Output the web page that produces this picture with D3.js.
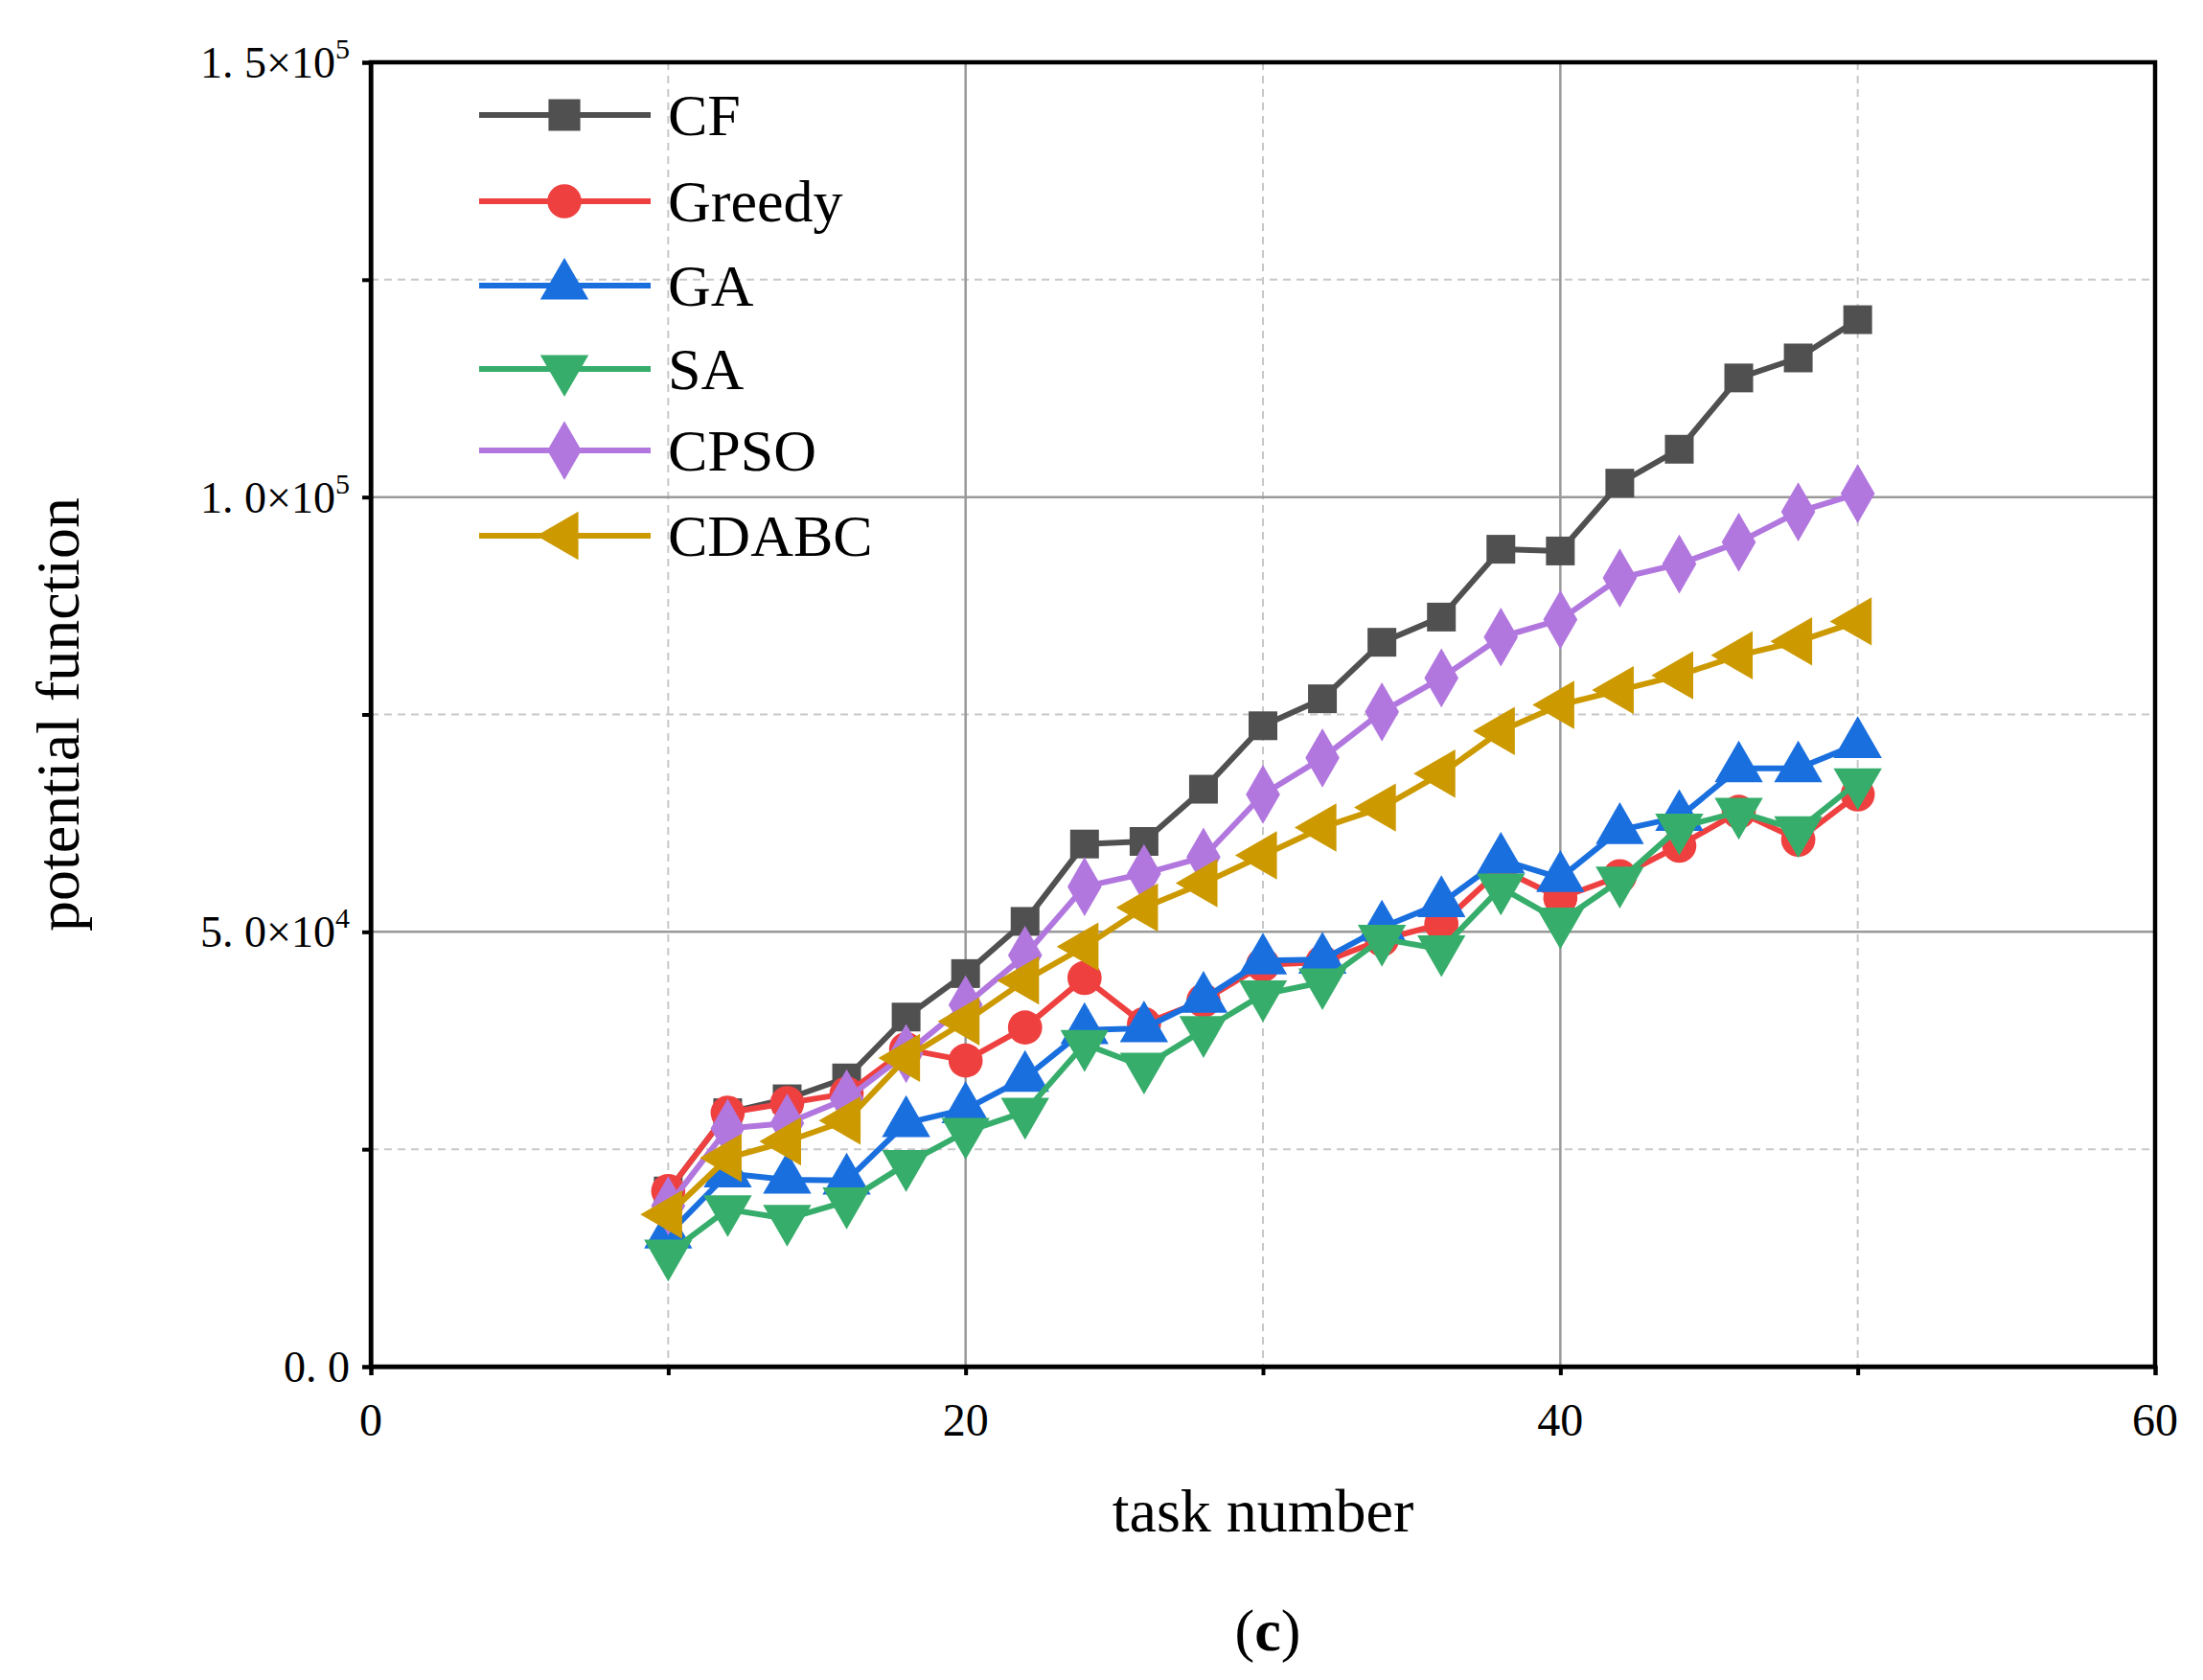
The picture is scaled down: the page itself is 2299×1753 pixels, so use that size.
<!DOCTYPE html>
<html><head><meta charset="utf-8">
<script src="https://cdn.jsdelivr.net/npm/d3@7"></script>
<style>body{margin:0;background:#fff}</style></head>
<body><svg id="c" width="2299" height="1753"></svg>
<script>
const taskNumbers=[10,12,14,16,18,20,22,24,26,28,30,32,34,36,38,40,42,44,46,48,50];
const CF=[20.2,29.2,30.8,33.2,40.2,45.2,51.2,60.1,60.4,66.4,73.7,76.8,83.3,86.2,94,93.8,101.6,105.5,113.7,116,120.4];
const Greedy=[20.2,29.2,30.3,31.4,36.5,35.2,39,44.7,39.4,42.1,46.2,46.5,49.1,50.9,57.2,53.9,56.4,59.9,63.8,60.6,65.8];
const GA=[15.2,22.2,21.5,21.4,28,29.6,33.2,38.7,38.9,42.3,46.7,46.8,50.5,53.3,58.3,56.2,61.7,63.2,68.8,68.8,71.6];
const SA=[13,18.1,17,19,23.3,27,29.3,37.1,34.5,38.7,42.8,44.2,49.2,48,55.1,51.2,55.9,62,63.8,61.7,67.2];
const CPSO=[18.5,27.4,28,30.8,36,41.6,47.3,55.2,56.7,58.6,65.8,70,75.3,79.2,83.9,85.9,90.7,92.3,94.8,98.3,100.4];
const CDABC=[17.5,24,25.9,28.3,35.5,39.7,44.4,48.3,52.8,55.6,58.8,62,64.3,68.2,73.1,76.1,77.8,79.5,81.8,83.4,85.7];
const seriesNames=["CF","Greedy","GA","SA","CPSO","CDABC"];
const seriesData=[CF,Greedy,GA,SA,CPSO,CDABC];
const colors=["#505050","#ef4040","#1a6fdf","#37ad6b","#b177de","#cc9900"];
const symbols=[d3.symbolSquare,d3.symbolCircle,d3.symbolTriangle,"down",d3.symbolDiamond,"left"];
const xTicks=[0,20,40,60];
const yTickVals=[0,50000,100000,150000];
const yTickMain=["0. 0","5. 0×10","1. 0×10","1. 5×10"];
const yTickExp=["","4","5","5"];

const svg=d3.select("#c");
const L=387,R=2249,T=65,B=1426;
const x=d3.scaleLinear().domain([0,60]).range([L,R]);
const y=d3.scaleLinear().domain([0,150000]).range([B,T]);
const font="Liberation Serif, Times New Roman, serif";
const g=svg.append("g");
// grid
[10,30,50].forEach(v=>g.append("line").attr("x1",x(v)).attr("x2",x(v)).attr("y1",T).attr("y2",B).attr("stroke","#c8c8c8").attr("stroke-width",2).attr("stroke-dasharray","8,6"));
[25000,75000,125000].forEach(v=>g.append("line").attr("y1",y(v)).attr("y2",y(v)).attr("x1",L).attr("x2",R).attr("stroke","#c8c8c8").attr("stroke-width",2).attr("stroke-dasharray","8,6"));
[20,40].forEach(v=>g.append("line").attr("x1",x(v)).attr("x2",x(v)).attr("y1",T).attr("y2",B).attr("stroke","#999").attr("stroke-width",2.5));
[50000,100000].forEach(v=>g.append("line").attr("y1",y(v)).attr("y2",y(v)).attr("x1",L).attr("x2",R).attr("stroke","#999").attr("stroke-width",2.5));
// axes
const xa=svg.append("g").attr("transform",`translate(0,${B})`).call(d3.axisBottom(x).tickValues(d3.range(0,61,10)).tickSize(9).tickFormat(""));
xa.selectAll("path,line").attr("stroke","#000").attr("stroke-width",4);
const ya=svg.append("g").attr("transform",`translate(${L},0)`).call(d3.axisLeft(y).tickValues(d3.range(0,150001,25000)).tickSize(9).tickFormat(""));
ya.selectAll("path,line").attr("stroke","#000").attr("stroke-width",4);
svg.append("rect").attr("x",L).attr("y",T).attr("width",R-L).attr("height",B-T).attr("fill","none").attr("stroke","#000").attr("stroke-width",4.5);
xTicks.forEach(v=>svg.append("text").attr("x",x(v)).attr("y",B+72).attr("text-anchor","middle").attr("font-family",font).attr("font-size",48).text(v));
yTickVals.forEach((v,i)=>{const t=svg.append("text").attr("x",L-22).attr("y",y(v)+16).attr("text-anchor","end").attr("font-family",font).attr("font-size",46);
 t.append("tspan").text(yTickMain[i]); if(yTickExp[i]) t.append("tspan").attr("dy",-20).attr("font-size",30).text(yTickExp[i]);});
svg.append("text").attr("x",(L+R)/2).attr("y",1598).attr("text-anchor","middle").attr("font-family",font).attr("font-size",64).text("task number");
svg.append("text").attr("transform",`translate(82,${(T+B)/2}) rotate(-90)`).attr("text-anchor","middle").attr("font-family",font).attr("font-size",64).text("potential function");
const ct=svg.append("text").attr("x",(L+R)/2+5).attr("y",1722).attr("text-anchor","middle").attr("font-family",font).attr("font-size",62);
ct.append("tspan").text("(");ct.append("tspan").attr("font-weight","bold").text("c");ct.append("tspan").text(")");

function marker(sel,s,size){
 if(s==="down") return sel.attr("d",d3.symbol(d3.symbolTriangle,size)()).attr("transform",function(){return d3.select(this).attr("transform")+" rotate(180)";});
 if(s==="left") return sel.attr("d",d3.symbol(d3.symbolTriangle,size)()).attr("transform",function(){return d3.select(this).attr("transform")+" rotate(-90)";});
 return sel.attr("d",d3.symbol(s,size)());
}
const line=d3.line().x((d,i)=>x(taskNumbers[i])).y(d=>y(d*1000));
seriesData.forEach((data,k)=>{
 svg.append("path").datum(data).attr("d",line).attr("fill","none").attr("stroke",colors[k]).attr("stroke-width",6).attr("stroke-linejoin","round");
 const sz=k===1?1000:(k===0?900:1100);
 svg.selectAll(null).data(data).enter().append("path").attr("transform",(d,i)=>`translate(${x(taskNumbers[i])},${y(d*1000)})`).attr("fill",colors[k]).each(function(){marker(d3.select(this),symbols[k],sz);});
});
// legend
const ly=[120,210,298,385,470,559];
seriesNames.forEach((n,k)=>{
 svg.append("line").attr("x1",500).attr("x2",679).attr("y1",ly[k]).attr("y2",ly[k]).attr("stroke",colors[k]).attr("stroke-width",6);
 svg.append("path").attr("transform",`translate(589,${ly[k]})`).attr("fill",colors[k]).each(function(){marker(d3.select(this),symbols[k],k===1?1000:1100);});
 svg.append("text").attr("x",697).attr("y",ly[k]+21).attr("font-family",font).attr("font-size",62).text(n);
});
</script></body></html>
